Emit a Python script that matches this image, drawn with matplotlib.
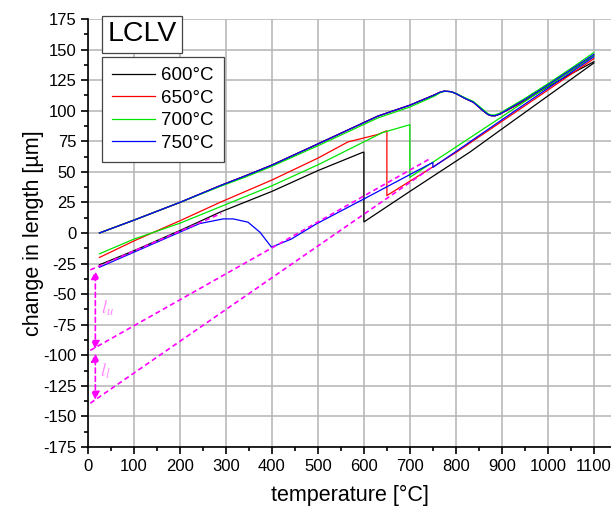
import numpy as np
import matplotlib
matplotlib.use("Agg")
import matplotlib.pyplot as plt

plt.rcParams['font.family'] = ['Liberation Sans', 'DejaVu Sans']
plt.rcParams['axes.unicode_minus'] = False
plt.rcParams['mathtext.fontset'] = 'stix'

# first heating, room temperature -> 1100 °C (same for all samples)
heat_T = [25, 100, 200, 287, 341, 400, 504, 630, 700, 754, 765, 775, 790, 801, 820, 838, 859, 870, 877, 885, 896, 950, 1000, 1050, 1100]
heat_600 = [0, 10.5, 25, 38.6, 46.5, 55.5, 73.5, 95.5, 104.5, 113, 115, 116, 115.5, 113.8, 110, 106.9, 100, 96.8, 95.9, 95.8, 97.3, 108, 119.5, 130, 140]
heat_650 = [0, 10.5, 25, 38.6, 46.5, 55.5, 73.5, 95.5, 104.5, 113, 115, 116, 115.5, 113.8, 110, 106.9, 100, 96.8, 95.9, 95.8, 97.3, 108.5, 120.5, 132.5, 145]
heat_700 = [0, 10.5, 25, 38, 45.5, 54.5, 72, 94, 103, 112, 114.5, 115.8, 115.5, 114, 110.5, 107.5, 101, 97.5, 96.5, 96.5, 98, 110, 122, 134.5, 147.5]
heat_750 = [0, 10.5, 25, 38.6, 46.5, 55.5, 73.5, 95.5, 104.5, 113, 115, 116, 115.5, 113.8, 110, 106.9, 100, 96.8, 95.9, 95.8, 97.3, 109, 121, 133.5, 146]

# cooling from 1100 °C, isothermal hold, cooling to room temperature
cool_600_T = [1100, 1000, 900, 830, 700, 600, 600, 598, 500, 400, 287, 200, 100, 25]
cool_600 = [139, 112, 85, 66, 34, 9, 66, 66, 51, 34, 17, 2, -14.5, -26]
cool_650_T = [1100, 950, 801, 650, 650, 630, 565, 500, 400, 287, 200, 100, 25]
cool_650 = [142.5, 104, 66, 30.6, 83.6, 80.5, 74.4, 61.2, 43.3, 25, 10, -6.5, -20]
cool_700_T = [1100, 900, 700, 700, 640, 600, 500, 400, 287, 200, 100, 25]
cool_700 = [145, 95, 45.5, 88.5, 82, 74.5, 55.7, 38.6, 21.3, 8, -5, -17]
cool_750_T = [1100, 900, 750, 750, 606, 497, 442, 399, 374, 348, 316, 294, 243, 200, 100, 25]
cool_750 = [144, 92.5, 53.6, 57.7, 29, 7.5, -5, -11.6, 0.6, 8.8, 11.5, 11.5, 7.7, 0.7, -15.7, -28]

# construction lines
aux_a_T, aux_a = [5, 290], [-30.2, 16]
aux_b_T, aux_b = [5, 745], [-96, 61]
aux_c_T, aux_c = [5, 745], [-139.2, 53]
arrow_T = 16
arrow_u = (-31, -95)
arrow_l = (-98.5, -136.5)

labels = ['600°C', '650°C', '700°C', '750°C']
colors = ['black', '#ff0000', '#00e600', '#0000ff']

x_ticks = list(range(0, 1101, 100))
y_ticks = list(range(-175, 176, 25))
y_ticklabels = [str(v) for v in y_ticks]

fig = plt.figure(figsize=(6.11, 5.09), dpi=100)
ax = fig.add_axes([0.144, 0.1218, 0.858, 0.841])

heats = [heat_600, heat_650, heat_700, heat_750]
cools = [(cool_600_T, cool_600), (cool_650_T, cool_650), (cool_700_T, cool_700), (cool_750_T, cool_750)]
handles = []
for h, (cT, cv), c, lab in zip(heats, cools, colors, labels):
    ln, = ax.plot(heat_T, h, color=c, lw=0.9, label=lab)
    ax.plot(cT, cv, color=c, lw=0.9)
    handles.append(ln)

mag = '#ff00ff'
for tT, tv in [(aux_a_T, aux_a), (aux_b_T, aux_b), (aux_c_T, aux_c)]:
    ax.plot(tT, tv, color=mag, lw=1.2, dashes=(3, 2))

for y1, y2 in [arrow_u, arrow_l]:
    ax.annotate('', xy=(arrow_T, y1), xytext=(arrow_T, y2),
                arrowprops=dict(arrowstyle='<|-|>', color=mag, lw=1.2, linestyle=(0, (3, 2)),
                                shrinkA=0, shrinkB=0, mutation_scale=12))
ax.text(42, -62, '$l_u$', color='#ff88ff', fontsize=13, ha='center', va='center')
ax.text(38, -113, '$l_l$', color='#ff88ff', fontsize=13, ha='center', va='center')

ax.set_xlim(0, 1140)
ax.set_ylim(-175, 175)
ax.set_xticks(x_ticks)
ax.set_xticks(range(50, 1101, 100), minor=True)
ax.set_yticks(y_ticks)
ax.set_yticklabels(y_ticklabels)
ax.set_yticks(np.arange(-162.5, 175, 25), minor=True)
ax.tick_params(which='both', direction='out', labelsize=12, width=1.2)
ax.tick_params(which='major', length=5)
ax.tick_params(which='minor', length=3)
ax.spines['top'].set_visible(False)
ax.spines['right'].set_visible(False)
ax.spines['left'].set_linewidth(1.2)
ax.spines['bottom'].set_linewidth(1.2)
ax.grid(True, which='major', color='#b4b4b4', lw=1.1)
ax.set_axisbelow(True)

ax.set_xlabel('temperature [°C]', fontsize=15.5, labelpad=8)
ax.set_ylabel('change in length [µm]', fontsize=15.5, labelpad=-1)

leg = ax.legend(handles=handles, loc='upper left', bbox_to_anchor=(0.0267, 0.911),
                borderaxespad=0, fontsize=13.5, frameon=True, fancybox=False,
                edgecolor='#444444', framealpha=1, handlelength=2.3, handletextpad=0.3,
                labelspacing=0.28, borderpad=0.55)
leg.get_frame().set_linewidth(0.9)

ax.text(0.103, 0.9638, 'LCLV', transform=ax.transAxes, fontsize=20.5, ha='center', va='center',
        bbox=dict(boxstyle='square,pad=0.18', fc='white', ec='#444444', lw=0.9))

fig.savefig('out.png', dpi=100)
